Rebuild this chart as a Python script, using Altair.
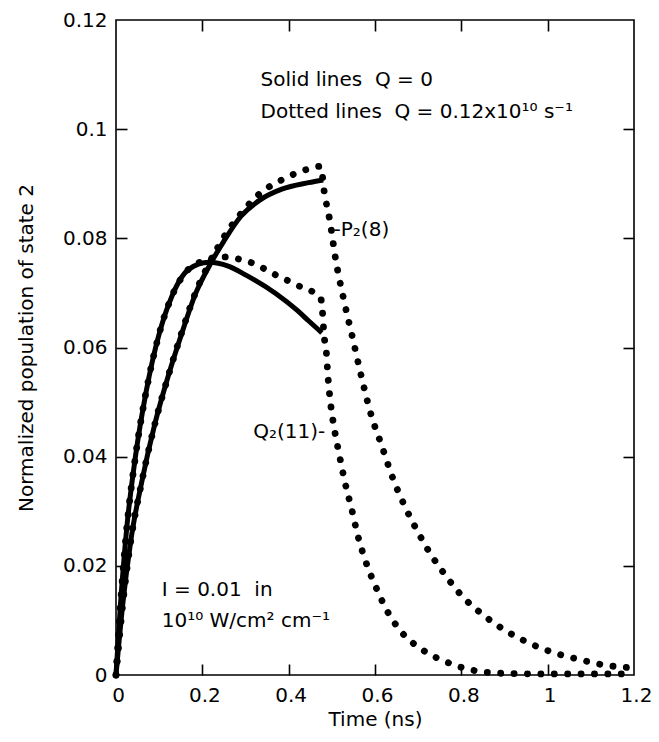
import altair as alt
import pandas as pd

# ---------------- data ----------------
# P2(8) curve, Q = 0 (solid)
p2_solid_t = [0, 0.015, 0.035, 0.06, 0.09, 0.12, 0.15, 0.185, 0.22, 0.25, 0.289, 0.333, 0.384, 0.446, 0.48]
p2_solid_v = [0, 0.0125, 0.025, 0.0355, 0.046, 0.0545, 0.0620, 0.0700, 0.0755, 0.0795, 0.0840, 0.0870, 0.0890, 0.0902, 0.0907]

# Q2(11) curve, Q = 0 (solid)
q2_solid_t = [0, 0.01, 0.025, 0.045, 0.07, 0.10, 0.13, 0.17, 0.215, 0.26, 0.30, 0.37, 0.42, 0.446, 0.477]
q2_solid_v = [0, 0.0125, 0.027, 0.040, 0.052, 0.0625, 0.0695, 0.0744, 0.0756, 0.0749, 0.0733, 0.0699, 0.0668, 0.0649, 0.0627]

# P2(8) curve, Q = 0.12e10 s-1 (dotted)
p2_dot_t = [0, 0.015, 0.035, 0.06, 0.09, 0.12, 0.15, 0.185, 0.22, 0.252, 0.289, 0.333, 0.384, 0.446, 0.474,
            0.483, 0.495, 0.509, 0.527, 0.548, 0.569, 0.592, 0.613, 0.643, 0.668, 0.696, 0.726,
            0.761, 0.8, 0.846, 0.897, 0.953, 1.01, 1.07, 1.133, 1.2]
p2_dot_v = [0, 0.0125, 0.025, 0.0355, 0.046, 0.0545, 0.0622, 0.0702, 0.0760, 0.0805, 0.0845, 0.0882, 0.0907, 0.0927, 0.0932,
            0.0882, 0.0834, 0.0761, 0.0690, 0.0618, 0.0545, 0.0474, 0.0426, 0.0357, 0.0311, 0.0267, 0.0225,
            0.0185, 0.0146, 0.0113, 0.0084, 0.0060, 0.0042, 0.0029, 0.0018, 0.0013]

# Q2(11) curve, Q = 0.12e10 s-1 (dotted)
q2_dot_t = [0, 0.01, 0.025, 0.045, 0.07, 0.10, 0.13, 0.17, 0.2, 0.23, 0.254, 0.285, 0.315, 0.37, 0.423, 0.474,
            0.478, 0.482, 0.487, 0.491, 0.497, 0.506, 0.518, 0.531, 0.546, 0.56, 0.578, 0.601, 0.627,
            0.661, 0.71, 0.765, 0.825, 0.9, 1.0, 1.2]
q2_dot_v = [0, 0.0125, 0.027, 0.040, 0.052, 0.0625, 0.0695, 0.0745, 0.0758, 0.0765, 0.0766, 0.0762, 0.0755, 0.0733, 0.0713, 0.0691,
            0.0668, 0.0622, 0.0594, 0.0547, 0.0498, 0.0450, 0.0401, 0.0351, 0.0304, 0.0256, 0.0209, 0.0163, 0.0119,
            0.0079, 0.0046, 0.0024, 0.0009, 0.0003, 0.0002, 0.0002]

x_ticks = [0, 0.2, 0.4, 0.6, 0.8, 1.0, 1.2]
y_ticks = [0, 0.02, 0.04, 0.06, 0.08, 0.1, 0.12]

NB = "\u00a0"
ann_text = ["Solid lines" + NB + NB + "Q = 0",
            "Dotted lines" + NB + NB + "Q = 0.12x10\u00b9\u2070 s\u207b\u00b9",
            "-P\u2082(8)",
            "Q\u2082(11)-",
            "I = 0.01" + NB + NB + "in",
            "10\u00b9\u2070 W/cm\u00b2 cm\u207b\u00b9"]
ann_t = [0.335, 0.335, 0.504, 0.318, 0.106, 0.106]
ann_v = [0.1079, 0.1021, 0.0805, 0.0434, 0.0144, 0.0088]

# ---------------- tables ----------------
def frame(ts, vs, name):
    return pd.DataFrame({"t": ts, "v": vs, "curve": name})

solid_df = pd.concat([frame(p2_solid_t, p2_solid_v, "P2"), frame(q2_solid_t, q2_solid_v, "Q2")])
dot_df = pd.concat([frame(p2_dot_t, p2_dot_v, "P2"), frame(q2_dot_t, q2_dot_v, "Q2")])
ann_df = pd.DataFrame({"t": ann_t, "v": ann_v, "label": ann_text})

W, H = 518, 655
FONT = "DejaVu Sans"
FS = 20

xs = alt.Scale(domain=[0, 1.2], nice=False, zero=False)
ys = alt.Scale(domain=[0, 0.12], nice=False, zero=False)

common = dict(grid=False, labelFont=FONT, titleFont=FONT, labelColor="black", titleColor="black",
              labelFontSize=FS, titleFontSize=FS, titleFontWeight="normal")

main_x = alt.Axis(values=x_ticks, format=".1~f", title="Time (ns)", ticks=False, tickSize=0,
                  domain=False, labelPadding=10, labelOffset=2, titlePadding=4,
                  labelFlush=False, labelOverlap=False, **common)
main_y = alt.Axis(values=y_ticks, format=".2~f", title="Normalized population of state 2",
                  ticks=False, tickSize=0, domain=False, labelPadding=9, titlePadding=26,
                  labelFlush=False, labelOverlap=False, **common)

tick_common = dict(labels=False, domain=False, ticks=True, tickSize=11, tickWidth=1.6,
                   tickColor="black", title=None, grid=False)
inner_x = [0.2, 0.4, 0.6, 0.8, 1.0]
inner_y = [0.02, 0.04, 0.06, 0.08, 0.1]
ax_bottom_in = alt.Axis(orient="top", offset=-H, values=inner_x, **tick_common)
ax_top_in = alt.Axis(orient="bottom", offset=-H, values=inner_x, **tick_common)
ax_left_in = alt.Axis(orient="right", offset=-W, values=inner_y, **tick_common)
ax_right_in = alt.Axis(orient="left", offset=-W, values=inner_y, **tick_common)

solid = alt.Chart(solid_df).mark_line(color="black", strokeWidth=5, interpolate="monotone").encode(
    x=alt.X("t:Q", scale=xs, axis=main_x),
    y=alt.Y("v:Q", scale=ys, axis=main_y),
    detail="curve:N",
)

dotted = alt.Chart(dot_df).mark_line(color="black", strokeWidth=6.8, strokeDash=[0.1, 13.3],
                                     strokeCap="round", interpolate="monotone").encode(
    x=alt.X("t:Q", scale=xs, axis=ax_bottom_in),
    y=alt.Y("v:Q", scale=ys, axis=ax_left_in),
    detail="curve:N",
)

labels = alt.Chart(ann_df).mark_text(font=FONT, fontSize=FS, color="black", align="left",
                                     baseline="alphabetic").encode(
    x=alt.X("t:Q", scale=xs, axis=ax_top_in),
    y=alt.Y("v:Q", scale=ys, axis=ax_right_in),
    text="label:N",
)

chart = alt.layer(solid, dotted, labels).resolve_axis(
    x="independent", y="independent"
).properties(
    width=W, height=H,
    autosize=alt.AutoSizeParams(type="none"),
    padding={"left": 108, "top": 12, "right": 17, "bottom": 59},
    background="white",
).configure_view(stroke="black", strokeWidth=1.6)

chart.save("out.html", embed_options={"renderer": "svg", "actions": False})
